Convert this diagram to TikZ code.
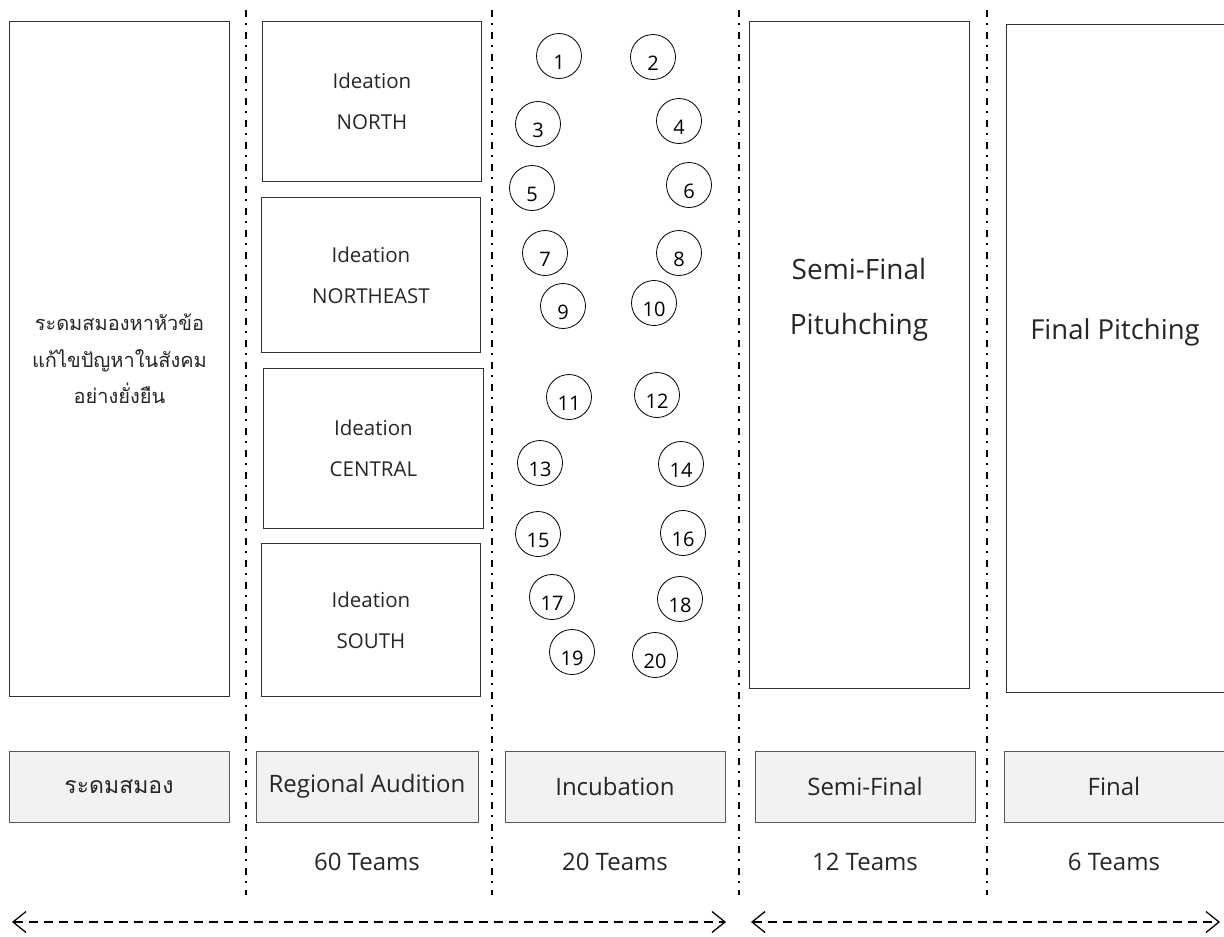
\documentclass[tikz,border=0pt]{standalone}
\usepackage{fontspec}
\setmainfont{Open Sans}
\newfontfamily\thaifont[Script=Thai]{Loma}
\usetikzlibrary{arrows.meta}
\definecolor{stagefill}{HTML}{F2F2F2}
\definecolor{stageline}{HTML}{595959}
\definecolor{inktext}{HTML}{262626}

\begin{document}
\begin{tikzpicture}[x=1pt,y=-1pt,
  bigbox/.style={draw=black!80, line width=0.9pt, anchor=north west, inner sep=0pt},
  ideabox/.style={bigbox, minimum width=219pt, text=inktext, align=center, font=\fontsize{20.5}{41}\selectfont},
  stagebox/.style={draw=stageline, fill=stagefill, line width=0.9pt, minimum width=220pt, minimum height=71pt, text=inktext, font=\fontsize{24}{28}\selectfont},
  teamcount/.style={text=inktext, font=\fontsize{24}{28}\selectfont},
  team/.style={draw, circle, line width=0.8pt, minimum size=45pt, inner sep=0pt},
  divider/.style={line width=1.8pt, dash pattern=on 7pt off 6pt on 2pt off 7pt},
  span/.style={line width=1.3pt, dash pattern=on 9pt off 6pt, {Straight Barb[length=13pt,width=21pt]}-{Straight Barb[length=13pt,width=21pt]}}
]
\useasboundingbox (0,0) rectangle (1224,937);

% stage dividers
\foreach \dx [count=\k] in {246,492,739,987}{
  \coordinate (top\k) at (\dx,10);
  \coordinate (bot\k) at (\dx,895);
  \draw[divider] (top\k) -- (bot\k);
}

% first column
\node[bigbox, minimum width=220pt, minimum height=675pt, align=center, text=inktext, font=\thaifont\fontsize{20}{36.5}\selectfont] (brainstorm) at (9,21) {ระดมสมองหาหัวข้อ\\แก้ไขปัญหาในสังคม\\อย่างยั่งยืน};

% regional ideation
\node[ideabox, minimum height=160pt] (north) at (262,21) {Ideation\\NORTH};
\node[ideabox, minimum height=155pt] (northeast) at (261,197) {Ideation\\NORTHEAST};
\node[ideabox, minimum height=160pt, minimum width=220pt] (central) at (263,368) {Ideation\\CENTRAL};
\node[ideabox, minimum height=153pt] (south) at (261,543) {Ideation\\SOUTH};

% incubation teams
\foreach \n/\cx/\cy in {1/559/56, 2/653/57, 3/538/124, 4/679/121, 5/532/188, 6/689/185, 7/545/253, 8/679/253, 9/563/306, 10/654/303, 11/569/397, 12/657/395, 13/540/463, 14/681/464, 15/538/534, 16/683/533, 17/552/597, 18/680/599, 19/572/652, 20/655/655}{
  \node[team] (t\n) at (\cx,\cy) {};
  \node[font=\fontsize{20}{22}\selectfont] (n\n) at ([yshift=-6pt]t\n.center) {\n};
}

% pitching
\node[bigbox, minimum width=220pt, minimum height=667pt] (semibox) at (749,21) {};
\node[text=inktext, align=center, font=\fontsize{28}{55}\selectfont] (semitext) at (859,300) {Semi-Final\\Pituhching};
\node[bigbox, minimum width=222pt, minimum height=668pt] (finalbox) at (1006,24) {};
\node[text=inktext, font=\fontsize{27.5}{32}\selectfont] (finaltext) at (1115,332) {Final Pitching};

% stage names
\node[stagebox, font=\thaifont\fontsize{23}{27}\selectfont] (s1) at (119,786.5) {ระดมสมอง};
\node[stagebox, minimum width=222pt] (s2) at (367,786.5) {Regional Audition};
\node[stagebox] (s3) at (615,786.5) {Incubation};
\node[stagebox] (s4) at (865,786.5) {Semi-Final};
\node[stagebox] (s5) at (1114,786.5) {Final};

\node[teamcount] (c2) at (367,862) {60 Teams};
\node[teamcount] (c3) at (615,862) {20 Teams};
\node[teamcount] (c4) at (865,862) {12 Teams};
\node[teamcount] (c5) at (1114,862) {6 Teams};

% time spans
\coordinate (spanA1) at (12,922);
\coordinate (spanA2) at (726,922);
\coordinate (spanB1) at (751,922);
\coordinate (spanB2) at (1220,922);
\draw[span] (spanA1) -- (spanA2);
\draw[span] (spanB1) -- (spanB2);
\end{tikzpicture}
\end{document}
